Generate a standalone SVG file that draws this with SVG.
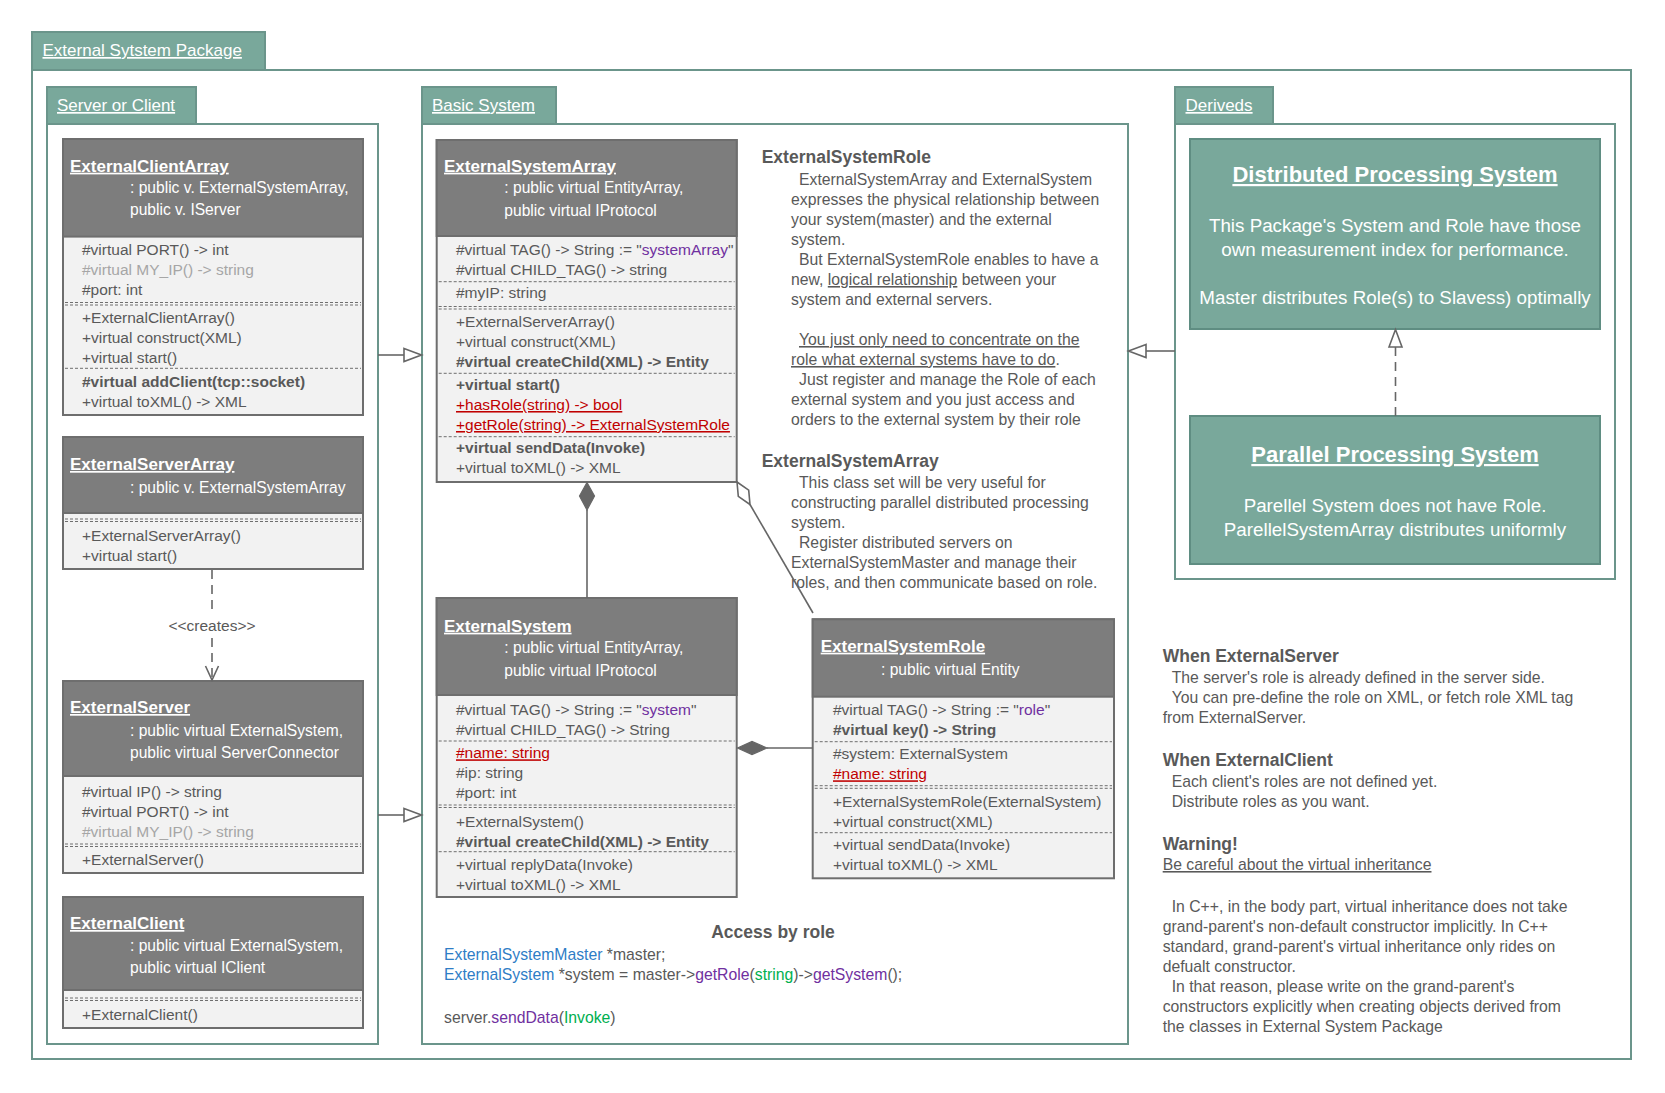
<svg xmlns="http://www.w3.org/2000/svg" width="1665" height="1093" viewBox="0 0 1665 1093">
<style>
text{font-family:"Liberation Sans",Arial,sans-serif;}
.pkg{fill:#ffffff;stroke:#6b958b;stroke-width:2}
.tab{fill:#79a89b;stroke:#6b958b;stroke-width:2}
.tabt{font-size:17px;fill:#ffffff;text-decoration:underline}
.box{fill:#f2f2f2;stroke:#6e6e6e;stroke-width:2}
.hdr{fill:#7d7d7d;stroke:#6e6e6e;stroke-width:2}
.cn{font-size:17px;font-weight:bold;fill:#ffffff;text-decoration:underline}
.cs{font-size:15.6px;fill:#ffffff}
.r{font-size:15.5px;fill:#595959}
.n{font-size:15.75px;fill:#595959}
.b{font-weight:bold}
.dim{fill:#a6a6a6}
.red{fill:#c00000;text-decoration:underline}
.pur{fill:#7030a0}
.blu{fill:#2e7dc6}
.grn{fill:#00b050}
.u{text-decoration:underline}
.sep{stroke:#6e6e6e;stroke-width:1;stroke-dasharray:3 2}
.h{font-size:17.5px;font-weight:bold;fill:#595959}
.tnode{fill:#79a89b;stroke:#5f8d82;stroke-width:2}
.tt{font-size:22px;font-weight:bold;fill:#ffffff;text-decoration:underline}
.tb{font-size:18.8px;fill:#ffffff}
.ln{stroke:#666666;stroke-width:1.6;fill:none}
.dash{stroke:#666666;stroke-width:1.6;fill:none;stroke-dasharray:9 6}
.hol{fill:#ffffff;stroke:#666666;stroke-width:1.6}
.fil{fill:#666666;stroke:#666666;stroke-width:1.2}
</style>

<!-- Packages -->
<g id="pkg-external">
  <rect class="pkg" x="32" y="70" width="1599" height="989"/>
  <rect class="tab" x="32" y="32" width="233" height="38"/>
  <text class="tabt" x="42.5" y="56">External Sytstem Package</text>
</g>
<g id="pkg-server-client">
  <rect class="pkg" x="47" y="124" width="331" height="920"/>
  <rect class="tab" x="47" y="87" width="149" height="37"/>
  <text class="tabt" x="57" y="111">Server or Client</text>
</g>
<g id="pkg-basic">
  <rect class="pkg" x="422" y="124" width="706" height="920"/>
  <rect class="tab" x="422" y="87" width="134" height="37"/>
  <text class="tabt" x="432" y="111">Basic System</text>
</g>
<g id="pkg-deriveds">
  <rect class="pkg" x="1175" y="124" width="440" height="455"/>
  <rect class="tab" x="1175" y="87" width="98" height="37"/>
  <text class="tabt" x="1185.5" y="111">Deriveds</text>
</g>

<!-- ExternalClientArray -->
<g id="n-external-client-array">
  <rect class="box" x="63" y="139" width="300" height="276"/>
  <rect class="hdr" x="63" y="139" width="300" height="97.6"/>
  <text class="cn" x="70" y="171.7">ExternalClientArray</text>
  <text class="cs" x="130" y="193">: public v. ExternalSystemArray,</text>
  <text class="cs" x="130" y="215">public v. IServer</text>
  <text class="r" x="82" y="255">#virtual PORT() -&gt; int</text>
  <text class="r dim" x="82" y="275">#virtual MY_IP() -&gt; string</text>
  <text class="r" x="82" y="295">#port: int</text>
  <line class="sep" x1="65" y1="302.5" x2="361" y2="302.5"/>
  <line class="sep" x1="65" y1="305" x2="361" y2="305"/>
  <text class="r" x="82" y="322.7">+ExternalClientArray()</text>
  <text class="r" x="82" y="342.7">+virtual construct(XML)</text>
  <text class="r" x="82" y="362.7">+virtual start()</text>
  <line class="sep" x1="65" y1="368.3" x2="361" y2="368.3"/>
  <text class="r b" x="82" y="386.7">#virtual addClient(tcp::socket)</text>
  <text class="r" x="82" y="406.7">+virtual toXML() -&gt; XML</text>
</g>

<!-- ExternalServerArray -->
<g id="n-external-server-array">
  <rect class="box" x="63" y="437" width="300" height="132"/>
  <rect class="hdr" x="63" y="437" width="300" height="76"/>
  <text class="cn" x="70" y="470">ExternalServerArray</text>
  <text class="cs" x="130" y="492.5">: public v. ExternalSystemArray</text>
  <line class="sep" x1="65" y1="519" x2="361" y2="519"/>
  <line class="sep" x1="65" y1="521.5" x2="361" y2="521.5"/>
  <text class="r" x="82" y="540.5">+ExternalServerArray()</text>
  <text class="r" x="82" y="560.5">+virtual start()</text>
</g>

<!-- ExternalServer -->
<g id="n-external-server">
  <rect class="box" x="63" y="681" width="300" height="192"/>
  <rect class="hdr" x="63" y="681" width="300" height="95"/>
  <text class="cn" x="70" y="713">ExternalServer</text>
  <text class="cs" x="130" y="735.5">: public virtual ExternalSystem,</text>
  <text class="cs" x="130" y="757.5">public virtual ServerConnector</text>
  <text class="r" x="82" y="797">#virtual IP() -&gt; string</text>
  <text class="r" x="82" y="817">#virtual PORT() -&gt; int</text>
  <text class="r dim" x="82" y="837">#virtual MY_IP() -&gt; string</text>
  <line class="sep" x1="65" y1="844" x2="361" y2="844"/>
  <line class="sep" x1="65" y1="846.5" x2="361" y2="846.5"/>
  <text class="r" x="82" y="864.5">+ExternalServer()</text>
</g>

<!-- ExternalClient -->
<g id="n-external-client">
  <rect class="box" x="63" y="897" width="300" height="131"/>
  <rect class="hdr" x="63" y="897" width="300" height="93"/>
  <text class="cn" x="70" y="929">ExternalClient</text>
  <text class="cs" x="130" y="950.5">: public virtual ExternalSystem,</text>
  <text class="cs" x="130" y="972.5">public virtual IClient</text>
  <line class="sep" x1="65" y1="998" x2="361" y2="998"/>
  <line class="sep" x1="65" y1="1000.5" x2="361" y2="1000.5"/>
  <text class="r" x="82" y="1019.5">+ExternalClient()</text>
</g>

<!-- ExternalSystemArray -->
<g id="n-external-system-array">
  <rect class="box" x="436.7" y="140" width="300" height="342"/>
  <rect class="hdr" x="436.7" y="140" width="300" height="96"/>
  <text class="cn" x="444" y="171.7">ExternalSystemArray</text>
  <text class="cs" x="504.3" y="193.3">: public virtual EntityArray,</text>
  <text class="cs" x="504.3" y="216">public virtual IProtocol</text>
  <text class="r" x="456" y="255">#virtual TAG() -&gt; String := "<tspan class="pur">systemArray</tspan>"</text>
  <text class="r" x="456" y="275">#virtual CHILD_TAG() -&gt; string</text>
  <line class="sep" x1="438.7" y1="281.7" x2="734.7" y2="281.7"/>
  <text class="r" x="456" y="298.3">#myIP: string</text>
  <line class="sep" x1="438.7" y1="306.5" x2="734.7" y2="306.5"/>
  <line class="sep" x1="438.7" y1="309" x2="734.7" y2="309"/>
  <text class="r" x="456" y="326.7">+ExternalServerArray()</text>
  <text class="r" x="456" y="346.7">+virtual construct(XML)</text>
  <text class="r b" x="456" y="366.7">#virtual createChild(XML) -&gt; Entity</text>
  <line class="sep" x1="438.7" y1="373.3" x2="734.7" y2="373.3"/>
  <text class="r b" x="456" y="390">+virtual start()</text>
  <text class="r red" x="456" y="410">+hasRole(string) -&gt; bool</text>
  <text class="r red" x="456" y="430">+getRole(string) -&gt; ExternalSystemRole</text>
  <line class="sep" x1="438.7" y1="436.7" x2="734.7" y2="436.7"/>
  <text class="r b" x="456" y="453.3">+virtual sendData(Invoke)</text>
  <text class="r" x="456" y="473.3">+virtual toXML() -&gt; XML</text>
</g>

<!-- ExternalSystem -->
<g id="n-external-system">
  <rect class="box" x="436.7" y="598" width="300" height="299"/>
  <rect class="hdr" x="436.7" y="598" width="300" height="97"/>
  <text class="cn" x="444" y="631.7">ExternalSystem</text>
  <text class="cs" x="504.3" y="653">: public virtual EntityArray,</text>
  <text class="cs" x="504.3" y="676">public virtual IProtocol</text>
  <text class="r" x="456" y="715">#virtual TAG() -&gt; String := "<tspan class="pur">system</tspan>"</text>
  <text class="r" x="456" y="735">#virtual CHILD_TAG() -&gt; String</text>
  <line class="sep" x1="438.7" y1="741" x2="734.7" y2="741"/>
  <text class="r red" x="456" y="758.3">#name: string</text>
  <text class="r" x="456" y="778">#ip: string</text>
  <text class="r" x="456" y="798">#port: int</text>
  <line class="sep" x1="438.7" y1="805" x2="734.7" y2="805"/>
  <line class="sep" x1="438.7" y1="807.5" x2="734.7" y2="807.5"/>
  <text class="r" x="456" y="826.7">+ExternalSystem()</text>
  <text class="r b" x="456" y="846.7">#virtual createChild(XML) -&gt; Entity</text>
  <line class="sep" x1="438.7" y1="851.7" x2="734.7" y2="851.7"/>
  <text class="r" x="456" y="870">+virtual replyData(Invoke)</text>
  <text class="r" x="456" y="890">+virtual toXML() -&gt; XML</text>
</g>

<!-- ExternalSystemRole -->
<g id="n-external-system-role">
  <rect class="box" x="812.7" y="619.3" width="301.3" height="259"/>
  <rect class="hdr" x="812.7" y="619.3" width="301.3" height="77.4"/>
  <text class="cn" x="820.7" y="651.7">ExternalSystemRole</text>
  <text class="cs" x="881" y="675">: public virtual Entity</text>
  <text class="r" x="833" y="715">#virtual TAG() -&gt; String := "<tspan class="pur">role</tspan>"</text>
  <text class="r b" x="833" y="735">#virtual key() -&gt; String</text>
  <line class="sep" x1="814.7" y1="741.7" x2="1112" y2="741.7"/>
  <text class="r" x="833" y="759.3">#system: ExternalSystem</text>
  <text class="r red" x="833" y="779.3">#name: string</text>
  <line class="sep" x1="814.7" y1="785.7" x2="1112" y2="785.7"/>
  <line class="sep" x1="814.7" y1="788.3" x2="1112" y2="788.3"/>
  <text class="r" x="833" y="806.7">+ExternalSystemRole(ExternalSystem)</text>
  <text class="r" x="833" y="826.7">+virtual construct(XML)</text>
  <line class="sep" x1="814.7" y1="832.7" x2="1112" y2="832.7"/>
  <text class="r" x="833" y="850">+virtual sendData(Invoke)</text>
  <text class="r" x="833" y="870">+virtual toXML() -&gt; XML</text>
</g>

<!-- Derived nodes -->
<g id="n-distributed">
  <rect class="tnode" x="1190" y="139" width="410" height="190"/>
  <text class="tt" x="1395" y="182" text-anchor="middle">Distributed Processing System</text>
  <text class="tb" x="1395" y="232" text-anchor="middle">This Package's System and Role have those</text>
  <text class="tb" x="1395" y="256" text-anchor="middle">own measurement index for performance.</text>
  <text class="tb" x="1395" y="304" text-anchor="middle">Master distributes Role(s) to Slavess) optimally</text>
</g>
<g id="n-parallel">
  <rect class="tnode" x="1190" y="416" width="410" height="148"/>
  <text class="tt" x="1395" y="462" text-anchor="middle">Parallel Processing System</text>
  <text class="tb" x="1395" y="512" text-anchor="middle">Parellel System does not have Role.</text>
  <text class="tb" x="1395" y="536" text-anchor="middle">ParellelSystemArray distributes uniformly</text>
</g>

<!-- Notes -->
<g id="note-role">
  <text class="h" x="761.7" y="163.3">ExternalSystemRole</text>
  <text class="n" x="799" y="185">ExternalSystemArray and ExternalSystem</text>
  <text class="n" x="791" y="205">expresses the physical relationship between</text>
  <text class="n" x="791" y="225">your system(master) and the external</text>
  <text class="n" x="791" y="245">system.</text>
  <text class="n" x="799" y="265">But ExternalSystemRole enables to have a</text>
  <text class="n" x="791" y="285">new, <tspan class="u">logical relationship</tspan> between your</text>
  <text class="n" x="791" y="305">system and external servers.</text>
  <text class="n u" x="799" y="345">You just only need to concentrate on the</text>
  <text class="n" x="791" y="365"><tspan class="u">role what external systems have to do</tspan>.</text>
  <text class="n" x="799" y="385">Just register and manage the Role of each</text>
  <text class="n" x="791" y="405">external system and you just access and</text>
  <text class="n" x="791" y="425">orders to the external system by their role</text>
  <text class="h" x="761.7" y="466.7">ExternalSystemArray</text>
  <text class="n" x="799" y="488.3">This class set will be very useful for</text>
  <text class="n" x="791" y="508.3">constructing parallel distributed processing</text>
  <text class="n" x="791" y="528.3">system.</text>
  <text class="n" x="799" y="548.3">Register distributed servers on</text>
  <text class="n" x="791" y="568.3">ExternalSystemMaster and manage their</text>
  <text class="n" x="791" y="588.3">roles, and then communicate based on role.</text>
</g>

<g id="note-access">
  <text class="h" x="773" y="938" text-anchor="middle">Access by role</text>
  <text class="n" x="444" y="960"><tspan class="blu">ExternalSystemMaster</tspan> *master;</text>
  <text class="n" x="444" y="980"><tspan class="blu">ExternalSystem</tspan> *system = master-&gt;<tspan class="pur">getRole</tspan>(<tspan class="grn">string</tspan>)-&gt;<tspan class="pur">getSystem</tspan>();</text>
  <text class="n" x="444" y="1023">server.<tspan class="pur">sendData</tspan>(<tspan class="grn">Invoke</tspan>)</text>
</g>

<g id="note-right">
  <text class="h" x="1162.7" y="661.7">When ExternalServer</text>
  <text class="n" x="1171.7" y="683.3">The server's role is already defined in the server side.</text>
  <text class="n" x="1171.7" y="703.3">You can pre-define the role on XML, or fetch role XML tag</text>
  <text class="n" x="1162.7" y="723.3">from ExternalServer.</text>
  <text class="h" x="1162.7" y="766">When ExternalClient</text>
  <text class="n" x="1171.7" y="786.7">Each client's roles are not defined yet.</text>
  <text class="n" x="1171.7" y="806.7">Distribute roles as you want.</text>
  <text class="h" x="1162.7" y="850">Warning!</text>
  <text class="n u" x="1162.7" y="870">Be careful about the virtual inheritance</text>
  <text class="n" x="1171.7" y="911.7">In C++, in the body part, virtual inheritance does not take</text>
  <text class="n" x="1162.7" y="931.7">grand-parent's non-default constructor implicitly. In C++</text>
  <text class="n" x="1162.7" y="951.7">standard, grand-parent's virtual inheritance only rides on</text>
  <text class="n" x="1162.7" y="971.7">defualt constructor.</text>
  <text class="n" x="1171.7" y="991.7">In that reason, please write on the grand-parent's</text>
  <text class="n" x="1162.7" y="1011.7">constructors explicitly when creating objects derived from</text>
  <text class="n" x="1162.7" y="1031.7">the classes in External System Package</text>
</g>

<!-- Connectors -->
<g id="connectors">
  <line class="ln" x1="378" y1="355" x2="404" y2="355"/>
  <polygon class="hol" points="404,348.5 421.5,355 404,361.5"/>
  <line class="ln" x1="378" y1="815" x2="404" y2="815"/>
  <polygon class="hol" points="404,808.5 421.5,815 404,821.5"/>
  <line class="ln" x1="1175" y1="351" x2="1146" y2="351"/>
  <polygon class="hol" points="1146,344.5 1128.5,351 1146,357.5"/>
  <line class="dash" x1="212" y1="570" x2="212" y2="614"/>
  <line class="dash" x1="212" y1="638" x2="212" y2="679"/>
  <polyline class="ln" points="205.5,666 212,680 218.5,666"/>
  <text class="r" x="212" y="631" text-anchor="middle" font-size="15">&lt;&lt;creates&gt;&gt;</text>
  <line class="ln" x1="587" y1="510" x2="587" y2="598"/>
  <polygon class="fil" points="587,482.5 594.5,496 587,510 579.5,496"/>
  <line class="ln" x1="750" y1="504.5" x2="813" y2="613"/>
  <polygon class="hol" points="737,482 738.3,496.3 750,504.5 748.7,490.2"/>
  <line class="ln" x1="767" y1="748" x2="812.7" y2="748"/>
  <polygon class="fil" points="737.5,748 752,741.5 767,748 752,754.5"/>
  <line class="dash" x1="1395.5" y1="416" x2="1395.5" y2="347"/>
  <polygon class="hol" points="1389,347 1395.5,329.5 1402,347"/>
</g>
</svg>
